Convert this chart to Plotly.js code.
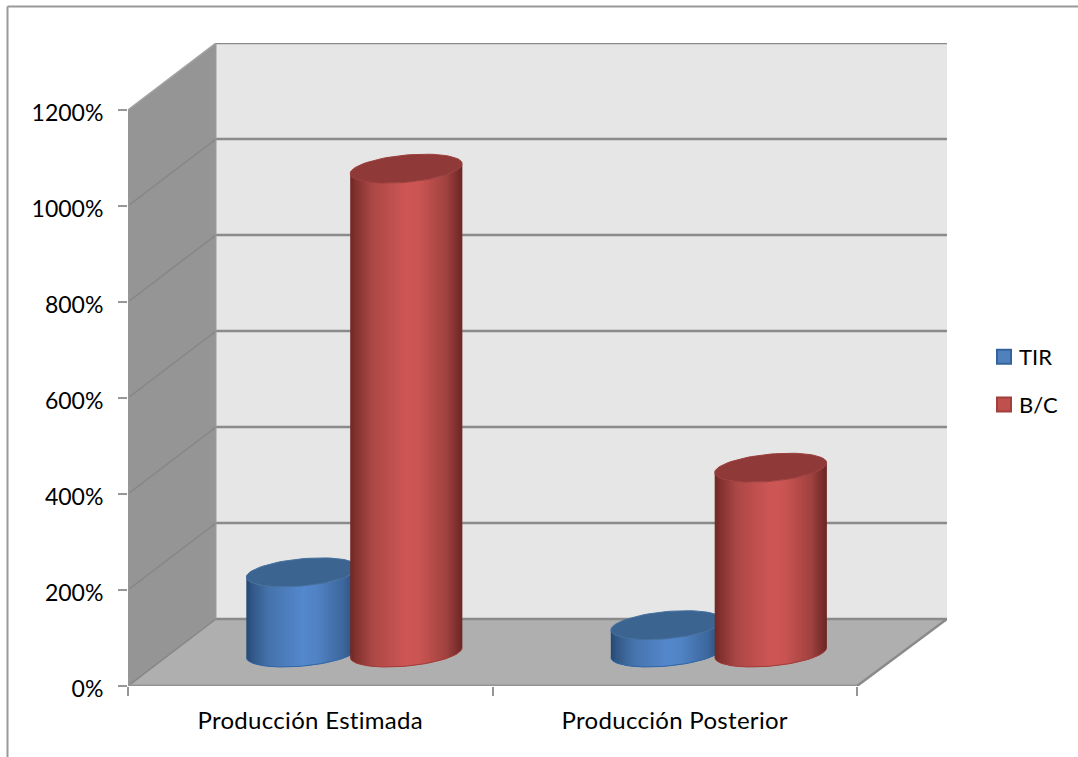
<!DOCTYPE html>
<html>
<head>
<meta charset="utf-8">
<script src="https://cdn.plot.ly/plotly-3.0.1.min.js"></script>
<style>
html,body{margin:0;padding:0;background:#fff}
#chart{width:1078px;height:757px}
#chart .xtick text{letter-spacing:.3px}
</style>
</head>
<body>
<div id="chart"></div>
<script>
// Chart values
const categories = ['Producción Estimada', 'Producción Posterior'];
const tirValues = [167, 57];
const bcValues = [1008, 385];
const axisTicks = [0, 200, 400, 600, 800, 1000, 1200];
const axisTickLabels = ['0%', '200%', '400%', '600%', '800%', '1000%', '1200%'];

// Oblique box: one full unit of depth moves a point this far along each axis
const DEPTH_X = 88 / 364.5;
const DEPTH_Y = 67 / 0.48;
const X_MAX = 819 / 364.5;
const Y_MAX = 643 / 0.48;

// Cylinder shape, in category units and fractions of the box depth
const RADIUS = 0.1445;
const DEPTH_RADIUS = 0.216;
const DEPTH_CENTER = 0.5;
const SERIES_OFFSET = 0.1425;
const STRIPS = 112;

const FONT = 'Lato, Carlito, Calibri, sans-serif';
const GRID = '#8a8a8a';

const project = (x, v, d) => [x + d * DEPTH_X, v + d * DEPTH_Y];

function poly(points, fill, lineColor, lineWidth) {
  return {
    x: points.map(p => p[0]), y: points.map(p => p[1]),
    type: 'scatter', mode: 'lines', fill: 'toself', fillcolor: fill,
    line: {color: lineColor || fill, width: lineWidth === undefined ? 0 : lineWidth},
    hoverinfo: 'skip', showlegend: false, cliponaxis: false
  };
}
function seg(points, color, width) {
  return {
    x: points.map(p => p[0]), y: points.map(p => p[1]),
    type: 'scatter', mode: 'lines', line: {color, width},
    hoverinfo: 'skip', showlegend: false, cliponaxis: false
  };
}

// Walls, floor and gridlines of the box
const traces = [];
const backRight = v => [X_MAX, v + DEPTH_Y];
traces.push(poly([project(0, 0, 1), backRight(0), backRight(1200), project(0, 1200, 1)], '#e6e6e6'));
traces.push(poly([project(0, 0, 0), project(0, 0, 1), project(0, 1200, 1), project(0, 1200, 0)], '#959595'));
traces.push(poly([project(0, 0, 0), project(2, 0, 0), backRight(0), project(0, 0, 1)], '#afafaf'));
axisTicks.forEach(v => {
  traces.push(seg([project(0, v, 1), backRight(v)], GRID, 2.5));
  traces.push(seg([project(0, v, 0), project(0, v, 1)], v === 1200 ? '#a3a3a3' : '#868686', 1.5));
});
traces.push(seg([project(0, 0, 1), project(0, 1200, 1)], '#9a9a9a', 1));
traces.push(seg([project(2, 0, 0), backRight(0)], GRID, 2.5));
traces.push(seg([project(0, 0, 0), project(2, 0, 0)], '#939393', 3));
traces.push(seg([project(0, 0, 0), project(0, 1200, 0)], '#969696', 3));

// Colour of a cylinder side across its visible width
function lerpStops(stops, u) {
  for (let i = 1; i < stops.length; i++) {
    if (u <= stops[i][0]) {
      const a = stops[i - 1], b = stops[i];
      const k = (u - a[0]) / (b[0] - a[0]);
      const c = [0, 1, 2].map(n => Math.round(a[1][n] + (b[1][n] - a[1][n]) * k));
      return 'rgb(' + c.join(',') + ')';
    }
  }
  const last = stops[stops.length - 1][1];
  return 'rgb(' + last.join(',') + ')';
}
const RED = {
  side: [[0, [112, 40, 38]], [0.05, [130, 50, 48]], [0.2, [172, 72, 70]], [0.5, [206, 87, 85]], [0.62, [202, 85, 83]], [0.86, [160, 66, 64]], [0.96, [122, 46, 44]], [1, [108, 40, 38]]],
  top: '#8f3a38', rim: '#9d3f3d', edge: '#a33b38'
};
const BLUE = {
  side: [[0, [38, 72, 114]], [0.05, [50, 88, 134]], [0.2, [70, 115, 172]], [0.5, [84, 136, 204]], [0.62, [82, 132, 198]], [0.86, [62, 104, 158]], [0.96, [46, 82, 126]], [1, [38, 72, 114]]],
  top: '#3c6491', rim: '#44709f', edge: '#2f66a8'
};

// One cylinder, painted left to right in overlapping strips, top face last
function cylinder(center, value, palette) {
  const cx = center + DEPTH_CENTER * DEPTH_X;
  const base = DEPTH_CENTER * DEPTH_Y;
  const ring = (t, v) => [
    cx + RADIUS * Math.cos(t) + DEPTH_RADIUS * DEPTH_X * Math.sin(t),
    base + v + DEPTH_RADIUS * DEPTH_Y * Math.sin(t)
  ];
  const t0 = Math.atan2(DEPTH_RADIUS * DEPTH_X, RADIUS);
  for (let i = 0; i < STRIPS; i++) {
    const u1 = i / STRIPS, u2 = Math.min(1, (i + 2) / STRIPS);
    const a1 = t0 + Math.PI + Math.acos(1 - 2 * u1);
    const a2 = t0 + Math.PI + Math.acos(1 - 2 * u2);
    const col = lerpStops(palette.side, (i + 0.5) / STRIPS);
    traces.push(poly([ring(a1, 0), ring((a1 + a2) / 2, 0), ring(a2, 0), ring(a2, value), ring(a1, value)], col));
  }
  const front = [], whole = [];
  for (let k = 0; k <= 48; k++) front.push(ring(t0 + Math.PI + Math.PI * k / 48, 0));
  for (let k = 0; k <= 72; k++) whole.push(ring(2 * Math.PI * k / 72, value));
  traces.push(seg(front, palette.edge, 1));
  traces.push(poly(whole, palette.top, palette.rim, 1));
}
categories.forEach((c, i) => {
  cylinder(i + 0.5 - SERIES_OFFSET, tirValues[i], BLUE);
  cylinder(i + 0.5 + SERIES_OFFSET, bcValues[i], RED);
});

// Legend entries
[['TIR', '#4f81bd', '#34639c'], ['B/C', '#c0504d', '#a03f3c']].forEach(s => {
  traces.push({
    x: [null], y: [null], name: s[0], legendgroup: s[0], type: 'scatter', mode: 'markers',
    marker: {symbol: 'square', size: 14, color: s[1], line: {color: s[2], width: 2}},
    hoverinfo: 'skip', showlegend: true
  });
});

const frameX = x => (x - 128) / 819;
const frameY = y => (686 - y) / 643;
const layout = {
  width: 1078, height: 757,
  margin: {l: 128, r: 131, t: 43, b: 71, pad: 0, autoexpand: false},
  paper_bgcolor: '#ffffff', plot_bgcolor: 'rgba(0,0,0,0)',
  font: {family: FONT, size: 23, color: '#000000'},
  hovermode: false,
  xaxis: {
    range: [0, X_MAX], showgrid: false, zeroline: false, showline: false,
    tickmode: 'array', tickvals: [0.5, 1.5], ticktext: categories, ticks: '',
    ticklabelstandoff: 18, tickfont: {family: FONT, size: 24, color: '#000000'},
    minor: {tickmode: 'array', tickvals: [0, 1, 2], ticks: 'outside', ticklen: 9, tickwidth: 2, tickcolor: '#969696', showgrid: false}
  },
  yaxis: {
    range: [0, Y_MAX], showgrid: false, zeroline: false, showline: false,
    tickmode: 'array', tickvals: axisTicks, ticktext: axisTickLabels,
    ticks: 'outside', ticklen: 9, tickwidth: 2, tickcolor: '#969696',
    ticklabelstandoff: 10, ticklabelshift: 3,
    tickfont: {family: FONT, size: 23, color: '#000000'}
  },
  legend: {
    x: frameX(979), xanchor: 'left', y: frameY(381), yanchor: 'middle',
    bgcolor: 'rgba(0,0,0,0)', borderwidth: 0,
    traceorder: 'grouped', tracegroupgap: 16,
    font: {family: FONT, size: 22, color: '#000000'},
    itemclick: false, itemdoubleclick: false
  },
  shapes: [
    {type: 'line', xref: 'paper', yref: 'paper', x0: frameX(7.5), x1: frameX(7.5), y0: frameY(6.5), y1: frameY(757), line: {color: '#999999', width: 2}},
    {type: 'line', xref: 'paper', yref: 'paper', x0: frameX(7.5), x1: frameX(1078), y0: frameY(6.5), y1: frameY(6.5), line: {color: '#999999', width: 2}}
  ]
};

Plotly.newPlot('chart', traces, layout, {displayModeBar: false, staticPlot: true}).then(() => {
  // Tighten the gap between legend swatches and their labels
  document.querySelectorAll('#chart .legendsymbols').forEach(g => g.setAttribute('transform', 'translate(5,0)'));
});
</script>
</body>
</html>
